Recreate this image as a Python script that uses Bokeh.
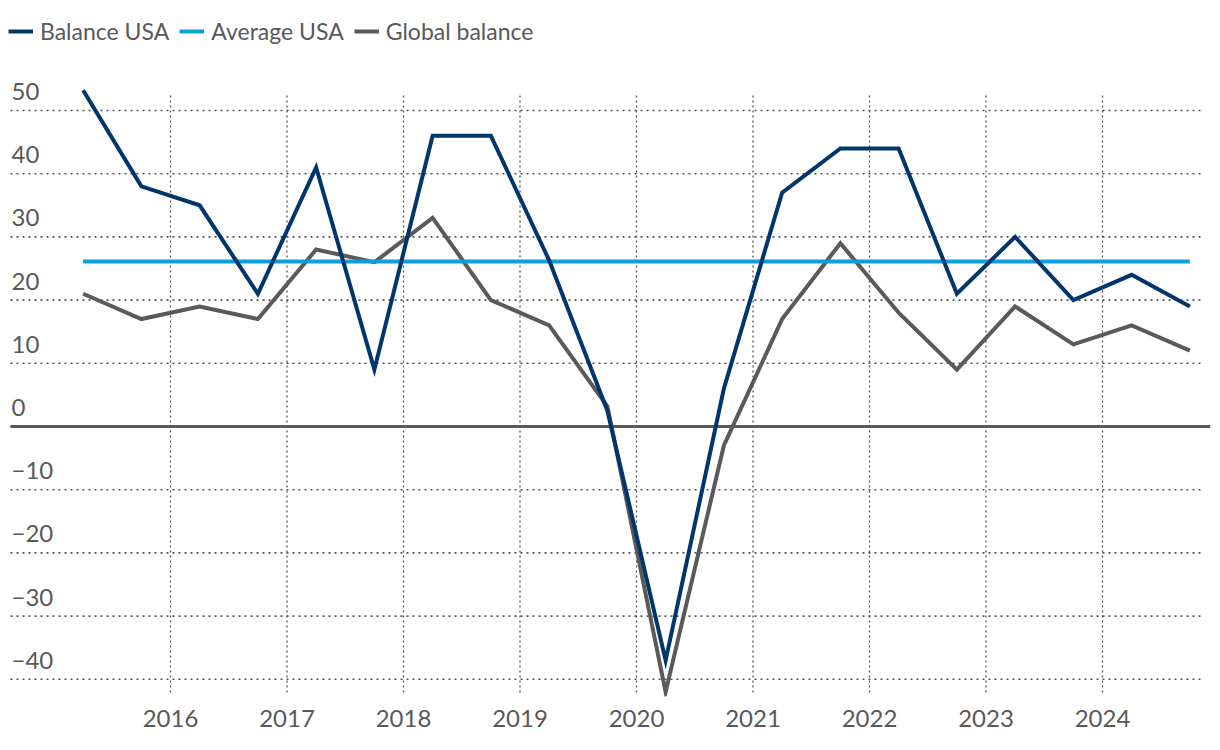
from bokeh.plotting import figure
from bokeh.models import Range1d, FixedTicker, Legend, LegendItem, ColumnDataSource
from bokeh.core.properties import value
from bokeh.embed import file_html
from bokeh.resources import INLINE

# ---- data ----
periods = [2015.25, 2015.75, 2016.25, 2016.75, 2017.25, 2017.75, 2018.25, 2018.75,
           2019.25, 2019.75, 2020.25, 2020.75, 2021.25, 2021.75, 2022.25, 2022.75,
           2023.25, 2023.75, 2024.25, 2024.75]
balance_usa = [53.2, 38, 35, 21, 41, 9, 46, 46, 26.3, 2.5, -37, 6, 37, 44, 44, 21, 30, 20, 24, 19]
global_balance = [21, 17, 19, 17, 28, 26, 33, 20, 16, 3.2, -42, -3, 17, 29, 18, 9, 19, 13, 16, 12]
average_usa = 26.1
year_ticks = [2016, 2017, 2018, 2019, 2020, 2021, 2022, 2023, 2024]
y_ticks = [50, 40, 30, 20, 10, 0, -10, -20, -30, -40]
y_tick_labels = ["50", "40", "30", "20", "10", "0", "\u221210", "\u221220", "\u221230", "\u221240"]

FONT = "Lato"
TXT = "#595959"
DARK = "#00366b"
LIGHT = "#0aa0d8"
GREY = "#5a5a5a"

X0, X1 = 2014.6094, 2024.927
Y0, Y1 = -42.72, 66.14

p = figure(width=1212, height=742, output_backend="svg", toolbar_location=None,
           x_range=Range1d(X0, X1), y_range=Range1d(Y0, Y1),
           min_border_left=8, min_border_right=2, min_border_top=8, min_border_bottom=46)
p.outline_line_color = None
p.xgrid.visible = False
p.ygrid.visible = False
p.yaxis.visible = False

ax = p.xaxis[0]
ax.ticker = FixedTicker(ticks=year_ticks)
ax.axis_line_color = None
ax.major_tick_line_color = None
ax.minor_tick_line_color = None
ax.major_tick_out = 0
ax.major_label_standoff = 13
ax.major_label_text_font = FONT
ax.major_label_text_font_size = "24px"
ax.major_label_text_color = TXT

# grid lines
gx_start = X0 + 2 / 116.5
gx_end = 2024.867
p.segment(x0=[gx_start] * len(y_ticks), x1=[gx_end] * len(y_ticks), y0=y_ticks, y1=y_ticks,
          line_color="#555555", line_width=1.6, line_dash="2 4")
p.segment(x0=year_ticks, x1=year_ticks, y0=[-42.1] * len(year_ticks), y1=[52.5] * len(year_ticks),
          line_color="#555555", line_width=1.3, line_dash="2 3")
# zero line
p.segment(x0=[gx_start], x1=[X1], y0=[0], y1=[0], line_color=GREY, line_width=3)

# y tick labels
p.text(x=[X0] * len(y_ticks), y=y_ticks, text=y_tick_labels, x_offset=3, y_offset=-19,
       text_align="left", text_baseline="alphabetic", text_font=value(FONT),
       text_font_size="24px", text_color=TXT)

src = ColumnDataSource(dict(x=periods, usa=balance_usa, glob=global_balance,
                            avg=[average_usa] * len(periods)))
r_glob = p.line("x", "glob", source=src, line_color=GREY, line_width=4, line_join="miter")
r_avg = p.line("x", "avg", source=src, line_color=LIGHT, line_width=4)
r_usa = p.line("x", "usa", source=src, line_color=DARK, line_width=4, line_join="miter")

legend = Legend(items=[LegendItem(label="Balance USA", renderers=[r_usa]),
                       LegendItem(label="Average USA", renderers=[r_avg]),
                       LegendItem(label="Global balance", renderers=[r_glob])],
                location="top_left", orientation="horizontal",
                margin=0, padding=0, spacing=10, glyph_width=25, glyph_height=46,
                label_height=46, label_standoff=7,
                label_text_font=FONT, label_text_font_size="23px", label_text_color=TXT,
                background_fill_alpha=0, border_line_color=None)
p.add_layout(legend)

open("out.html", "w").write(file_html(p, INLINE))
